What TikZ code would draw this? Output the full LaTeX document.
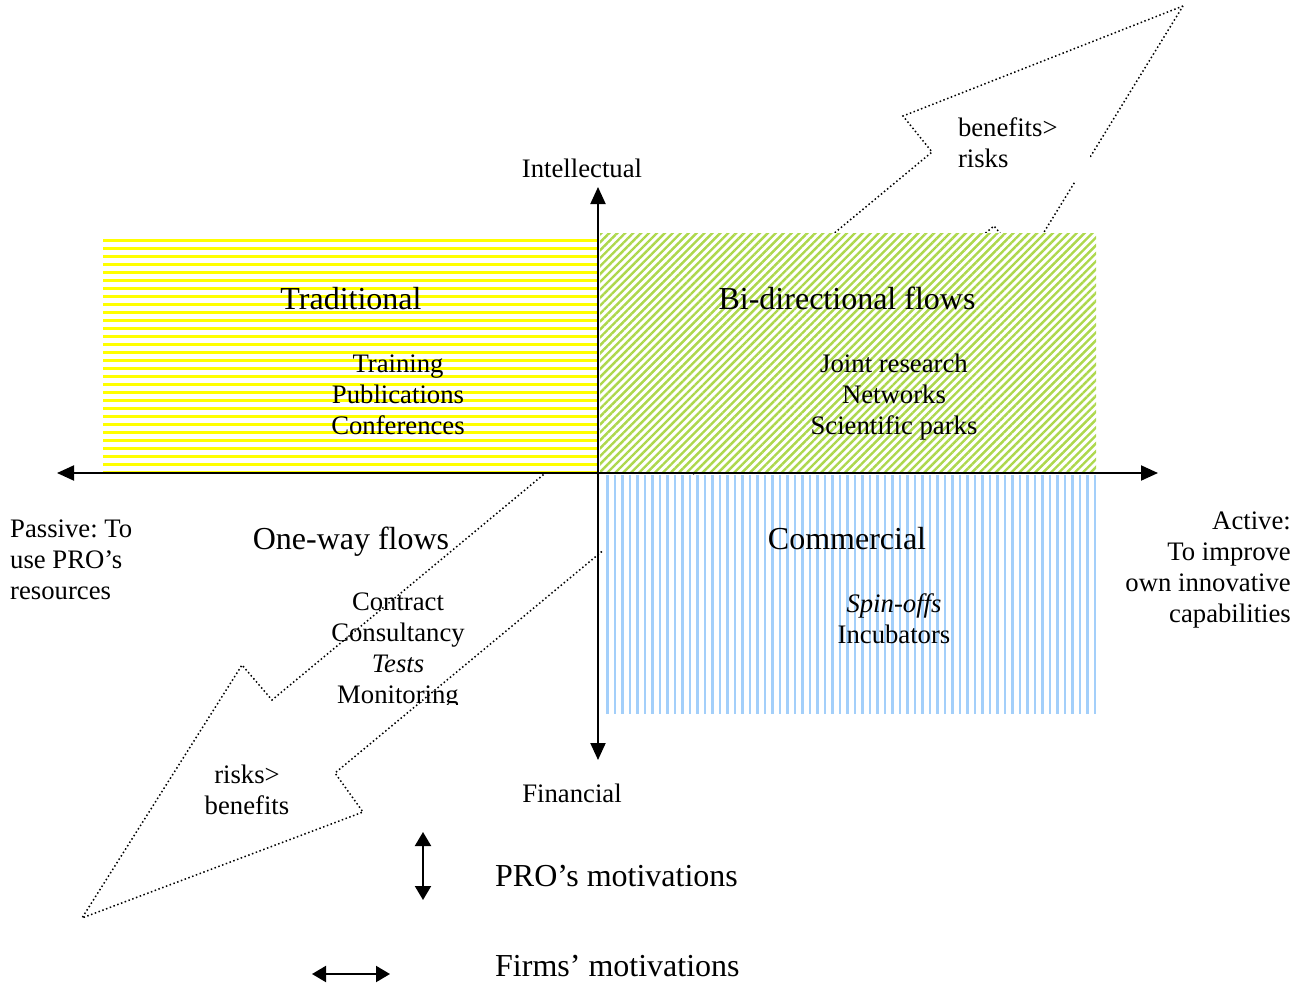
\documentclass[tikz,border=0pt]{standalone}
\usepackage{fontspec}
\setmainfont{Liberation Serif}
\frenchspacing
\definecolor{stripe1}{HTML}{FFFF00}
\definecolor{stripe2}{HTML}{ADD84C}
\definecolor{stripe3}{HTML}{A3CFFA}
\usetikzlibrary{arrows.meta,patterns.meta}

\begin{document}
\begin{tikzpicture}[x=1pt, y=-1pt,
  lbl/.style={font=\fontsize{26.7}{31}\selectfont, align=center, inner sep=0pt},
  big/.style={font=\fontsize{32}{38}\selectfont, inner sep=0pt},
  axis/.style={{Triangle[length=17pt,width=15pt]}-{Triangle[length=17pt,width=15pt]},
               line width=2pt},
  key/.style={{Triangle[length=14pt,width=16pt]}-{Triangle[length=14pt,width=16pt]},
              line width=2pt},
  flow/.style={draw, line width=1.5pt, dash pattern=on 1.5pt off 2.5pt},
  quad/.style={fill=white},
]
  \useasboundingbox (0,0) rectangle (1304,985);

  % ---- the big dotted two-way arrow (mostly hidden by the quadrants) ----
  \draw[flow] (1183,6) -- (903,116) -- (932,152) -- (272,700) -- (242,665)
    -- (82,918) -- (363,812) -- (335,773) -- (994,226) -- (1025,263) -- cycle;

  % ---- quadrants ----
  \path[quad, postaction={pattern={Lines[angle=0,distance=8pt,line width=3pt]},
        pattern color=stripe1}] (103,238) rectangle (598,472);
  \path[quad, postaction={pattern={Lines[angle=45,distance=5.6pt,line width=2.4pt]},
        pattern color=stripe2}] (600,233) rectangle (1096,472);
  \path[quad, postaction={pattern={Lines[angle=90,distance=7.5pt,line width=2.5pt]},
        pattern color=stripe3}] (603,475) rectangle (1096,713);

  \node[lbl, align=left, fill=white, text width=124pt, inner xsep=8pt,
        minimum height=76pt] (gain) at (1020,143) {benefits>\\risks};
  \node[lbl] (loss) at (247,790) {risks>\\benefits};

  % ---- axes ----
  \coordinate (west)  at (57,473);
  \coordinate (east)  at (1158,473);
  \coordinate (north) at (598,187);
  \coordinate (south) at (598,760);
  \draw[axis] (west) -- (east);
  \draw[axis] (north) -- (south);

  \node[lbl] (intel) at (582,168) {Intellectual};
  \node[lbl] (fin)   at (572,793) {Financial};
  \node[lbl, align=left, anchor=west]  (passive) at (10,560)
    {Passive: To\\use PRO's\\resources};
  \node[lbl, align=right, anchor=east] (active) at (1291,570)
    {Active:\\To improve\\own innovative\\capabilities};

  % ---- quadrant texts ----
  \node[big] (trad)  at (351,299) {Traditional};
  \node[lbl] (tradlist) at (398,395) {Training\\Publications\\Conferences};
  \node[big] (bidir) at (847,298) {Bi-directional flows};
  \node[lbl] (bidirlist) at (894,397) {Joint research\\Networks\\Scientific parks};
  \node[big] (oneway) at (351,542) {One-way flows};
  \begin{scope}
    \clip (250,570) rectangle (550,704);
    \node[lbl] (onewaylist) at (398,651)
      {Contract\\Consultancy\\\textit{Tests}\\Monitoring};
  \end{scope}
  \node[big] (comm) at (847,539) {Commercial};
  \node[lbl] (commlist) at (894,619) {\textit{Spin-offs}\\Incubators};

  % ---- legend ----
  \coordinate (pa) at (423,832);
  \coordinate (pb) at (423,900);
  \coordinate (fa) at (312,974);
  \coordinate (fb) at (390,974);
  \draw[key] (pa) -- (pb);
  \draw[key] (fa) -- (fb);
  \node[big, anchor=west] (prokey)  at (495,876) {PRO's motivations};
  \node[big, anchor=west] (firmkey) at (495,966) {Firms' motivations};
\end{tikzpicture}
\end{document}
